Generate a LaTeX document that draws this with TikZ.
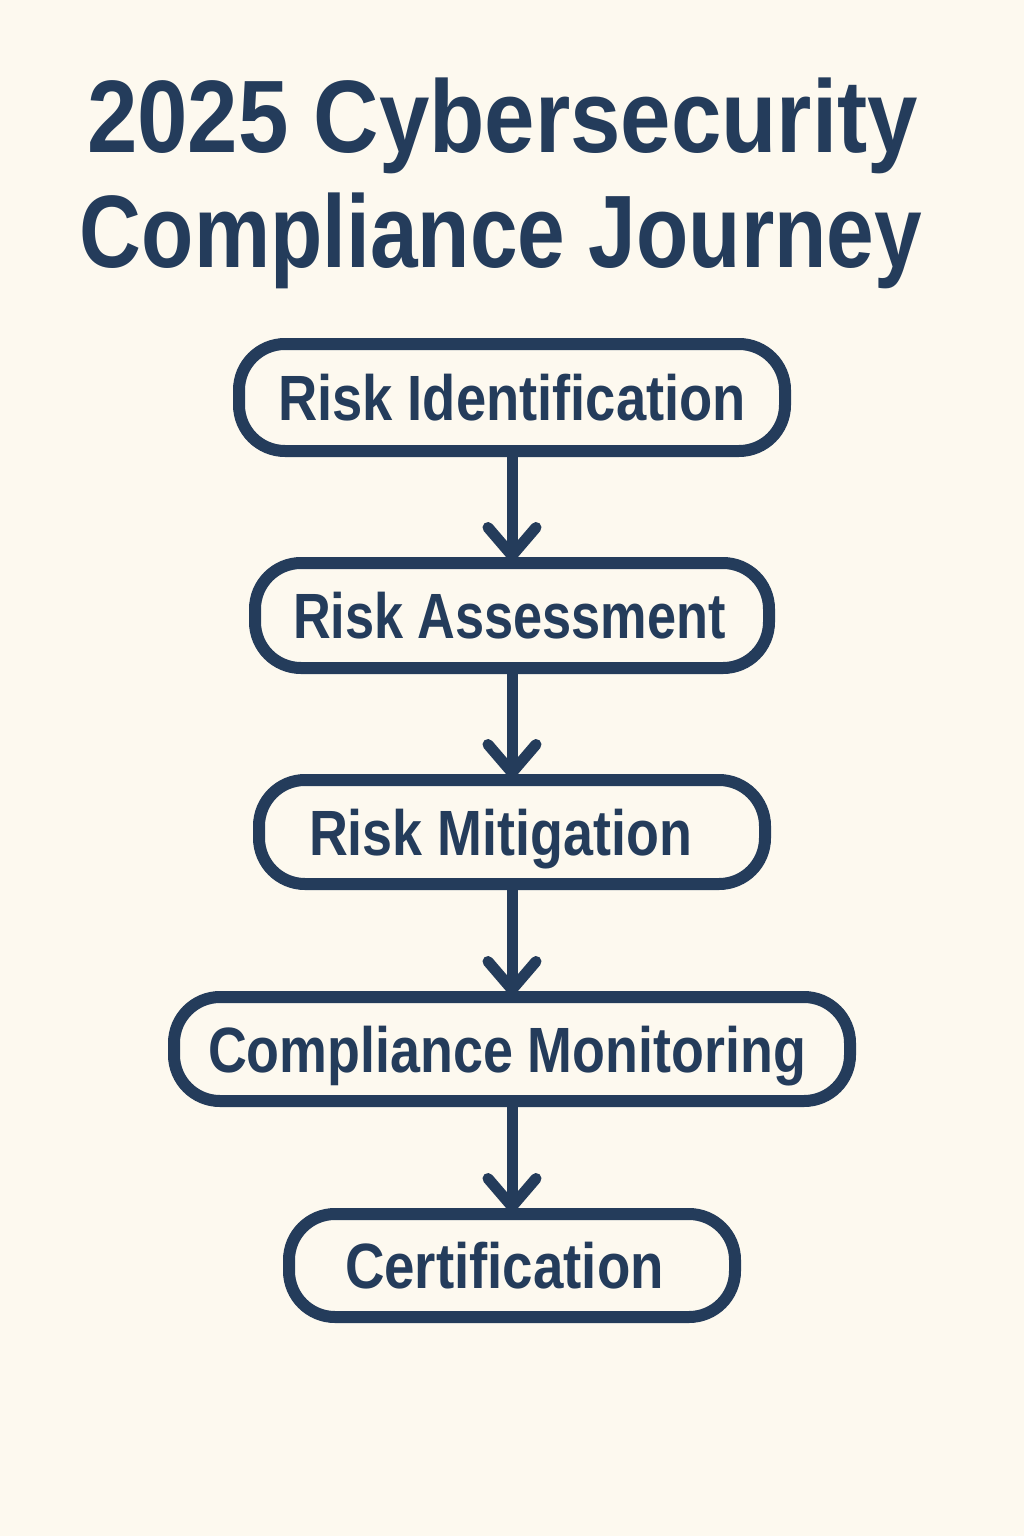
\documentclass[tikz,border=0pt]{standalone}
\usepackage{fontspec}
\setmainfont{Liberation Sans}
\usetikzlibrary{arrows.meta}
\definecolor{bgc}{HTML}{FDF9EF}
\definecolor{navy}{HTML}{243C5B}
\newsavebox\fitbox
\newcommand\fitw[2]{\sbox\fitbox{#2}\pgfmathsetmacro\fitr{#1/\wd\fitbox}\scalebox{\fitr}[1]{\usebox\fitbox}}
\begin{document}
\begin{tikzpicture}[x=1pt,y=-1pt,
  stage/.style={draw=navy, line width=12pt, rounded corners=46pt, fill=bgc,
    text=navy, font=\fontsize{64}{70}\selectfont\bfseries,
    text height=46pt, text depth=0pt, inner sep=0pt},
  flow/.style={draw=navy, line width=11pt, -{Straight Barb[length=28pt,width=48pt,round]}},
  titlefont/.style={text=navy, font=\fontsize{103}{110}\selectfont\bfseries, anchor=base, inner sep=0pt}]
\fill[bgc] (0,0) rectangle (1024,1536);
\useasboundingbox (0,0) rectangle (1024,1536);
\node[titlefont] (t1) at (502.5,153) {\fitw{831}{2025 Cybersecurity}};
\node[titlefont] (t2) at (501,267) {\fitw{842}{Compliance Journey}};
\node[stage, minimum width=546pt, minimum height=107pt] (s1) at (512,397.5) {\fitw{468}{Risk Identification}};
\node[stage, minimum width=514pt, minimum height=105pt] (s2) at (512,615.5) {\fitw{433}{Risk Assessment}\hspace*{5pt}};
\node[stage, minimum width=506pt, minimum height=104pt] (s3) at (512,832) {\fitw{383}{Risk Mitigation}\hspace*{23pt}};
\node[stage, minimum width=676pt, minimum height=104pt] (s4) at (512,1049) {\fitw{598}{Compliance Monitoring}\hspace*{10pt}};
\node[stage, minimum width=446pt, minimum height=103pt] (s5) at (512,1265.5) {\fitw{319}{Certification}\hspace*{15pt}};
\draw[flow] (s1.south) -- ([yshift=-4pt]s2.north);
\draw[flow] (s2.south) -- ([yshift=-4pt]s3.north);
\draw[flow] (s3.south) -- ([yshift=-4pt]s4.north);
\draw[flow] (s4.south) -- ([yshift=-4pt]s5.north);
\end{tikzpicture}
\end{document}
